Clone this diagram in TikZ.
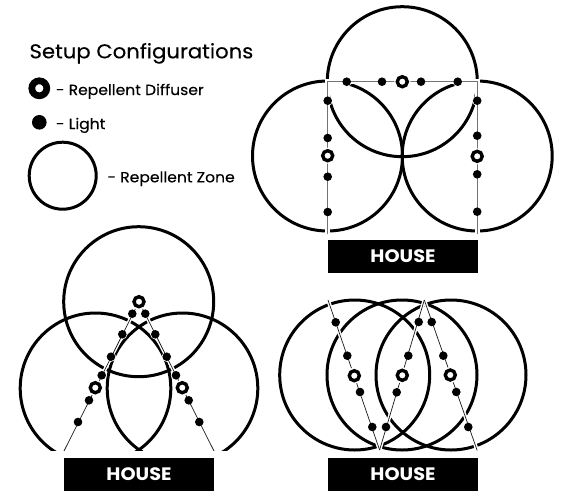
\documentclass[tikz,border=0pt]{standalone}
\usepackage{fontspec}
\setmainfont{Poppins}[FakeStretch=1.06,FakeBold=0.25]
\newfontfamily\housefont{Poppins}[FakeStretch=1.07]
\tikzset{
  x=1pt,y=-1pt,
  zone/.style={draw=black,line width=3pt,fill=none},
  halo/.style={draw=white,line width=5pt},
  halothin/.style={draw=white,line width=3.6pt},
  wire/.style={draw=black!55,line width=1pt},
  thinwire/.style={draw=black!90,line width=0.7pt},
  lamp/.style={circle,fill=black,minimum size=8.6pt,inner sep=0pt},
  diffuser/.style={circle,fill=white,draw=black,line width=3.4pt,minimum size=10pt,inner sep=0pt},
  housebox/.style={fill=black,text=white,font=\fontsize{18}{19}\housefont\bfseries,minimum width=150pt,minimum height=32.7pt,inner sep=0pt},
  lbl/.style={anchor=base west,inner sep=0pt,font=\fontsize{14.7}{17}\selectfont},
}
\newcommand{\lampsAt}[2]{%
  \foreach \x/\y [count=\i] in {#2} {\node[lamp] (#1\i) at (\x,\y) {};}}
\newcommand{\lampHalos}[1]{%
  \foreach \x/\y in {#1} {\fill[white] (\x,\y) circle (5.1);}}
\newcommand{\diffHalos}[1]{%
  \foreach \x/\y in {#1} {\fill[white] (\x,\y) circle (8);}}
\newcommand{\diffsAt}[2]{%
  \foreach \x/\y [count=\i] in {#2} {\node[diffuser] (#1\i) at (\x,\y) {};}}
\begin{document}
\begin{tikzpicture}
\useasboundingbox (0,0) rectangle (563,491);
% legend
\node[lbl,font=\fontsize{20}{22}\selectfont] (title) at (29.3,58.3) {Setup Configurations};
\node[circle,draw=black,line width=6.7pt,fill=white,minimum size=15pt,inner sep=0pt] (ld) at (39.3,88.3) {};
\node[circle,fill=black,minimum size=14.6pt,inner sep=0pt] (ll) at (39.3,122.3) {};
\node[circle,draw=black,line width=3pt,minimum size=67pt,inner sep=0pt] (lz) at (62.7,175.7) {};
\node[lbl] (t1) at (55.7,95) {- Repellent Diffuser};
\node[lbl] (t2) at (55.7,129) {- Light};
\node[lbl] (t3) at (107.3,182.3) {- Repellent Zone};
% config 1
\draw[zone] (402.3,81.7) circle (75);
\draw[zone] (327.5,156) circle (75);
\draw[zone] (477.2,156) circle (75);
\coordinate (a1) at (327.5,81.7);
\coordinate (b1) at (477.2,81.7);
\coordinate (c1) at (327.5,234);
\coordinate (d1) at (477.2,234);
\draw[halo] (c1) -- (a1) -- (b1) -- (d1);
\lampHalos{346.7/81.7,382/81.7,421/81.7,457.7/81.7,327.7/100.7,327.7/138,327.7/176.7,327.7/212,477.2/100.7,477.2/135.7,477.2/174.3,477.2/211.7}
\draw[wire] (c1) -- (a1) -- (b1) -- (d1);
\diffHalos{402.3/81.7,327.7/155.7,477.2/156.3}
\lampsAt{p}{346.7/81.7,382/81.7,421/81.7,457.7/81.7,327.7/100.7,327.7/138,327.7/176.7,327.7/212,477.2/100.7,477.2/135.7,477.2/174.3,477.2/211.7}
\diffsAt{q}{402.3/81.7,327.7/155.7,477.2/156.3}
\node[housebox] (h1) at (403,256.4) {HOUSE};
% config 2
\begin{scope}
\clip (0,220) rectangle (270,450.3);
\draw[zone] (138.7,301.7) circle (75);
\draw[zone] (95.5,388.3) circle (75.3);
\draw[zone] (182.5,388.3) circle (75.3);
\coordinate (a2) at (139,301.7);
\coordinate (b2) at (64,451);
\coordinate (c2) at (214,451);
\draw[halothin] (a2) -- (b2);
\draw[halothin] (a2) -- (c2);
\lampHalos{132.3/313.7,122.3/334.3,111/356.7,101.7/375.3,89/400.3,78/422,145.3/313.7,155.3/334.3,166.7/356.7,176/375.3,188.7/400.3,199.3/422}
\draw[thinwire] (a2) -- (b2);
\draw[thinwire] (a2) -- (c2);
\end{scope}
\diffHalos{139/301.7,95.3/387.7,182.3/387.7}
\lampsAt{r}{132.3/313.7,122.3/334.3,111/356.7,101.7/375.3,89/400.3,78/422,145.3/313.7,155.3/334.3,166.7/356.7,176/375.3,188.7/400.3,199.3/422}
\diffsAt{s}{139/301.7,95.3/387.7,182.3/387.7}
\node[housebox] (h2) at (139,474.5) {HOUSE};
% config 3
\draw[zone] (354.7,375) circle (75);
\draw[zone] (402,375) circle (75);
\draw[zone] (451,375) circle (75);
\coordinate (a3) at (328,300);
\coordinate (b3) at (379.6,450);
\coordinate (c3) at (424.3,300);
\coordinate (d3) at (477.2,450.5);
\draw[halothin] (a3) -- (b3);
\draw[halothin] (c3) -- (b3);
\draw[halothin] (c3) -- (d3);
\lampHalos{335.7/322.3,347.3/355.7,360/392,372.3/427,386/427,396.7/392.3,408.3/355.7,418.7/322,431.7/322,443.3/355.7,456.3/392,468.3/427}
\draw[thinwire] (a3) -- (b3);
\draw[thinwire] (c3) -- (b3);
\draw[thinwire] (c3) -- (d3);
\diffHalos{354.3/375.7,402.3/375.3,450.3/375}
\lampsAt{u}{335.7/322.3,347.3/355.7,360/392,372.3/427,386/427,396.7/392.3,408.3/355.7,418.7/322,431.7/322,443.3/355.7,456.3/392,468.3/427}
\diffsAt{v}{354.3/375.7,402.3/375.3,450.3/375}
\node[housebox] (h3) at (403,474.5) {HOUSE};
\end{tikzpicture}
\end{document}
